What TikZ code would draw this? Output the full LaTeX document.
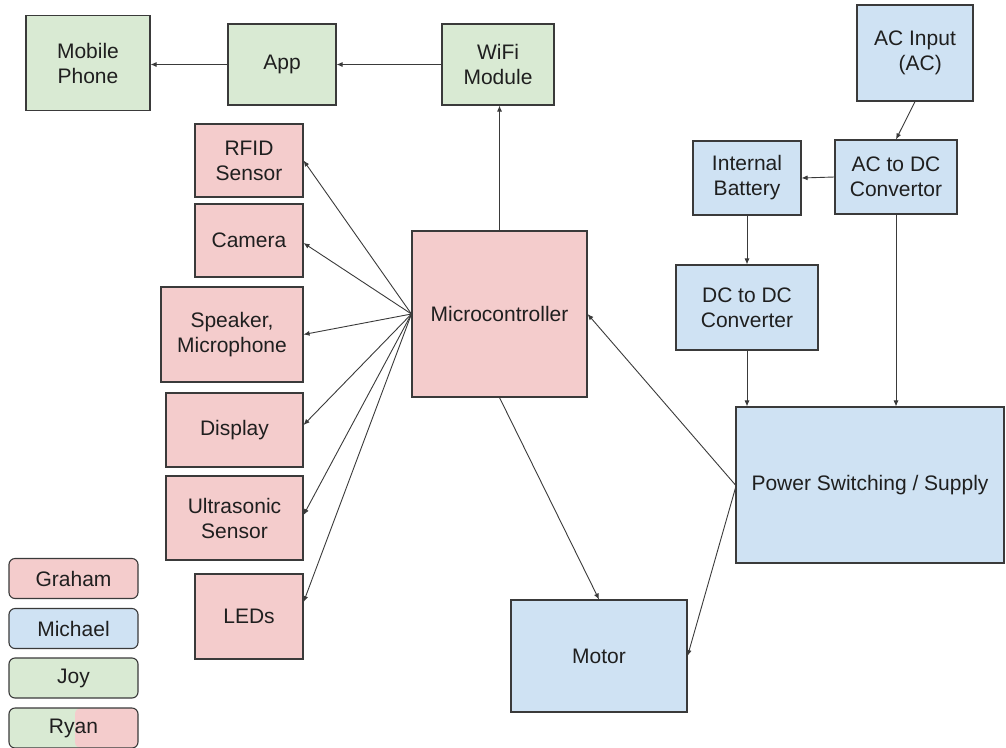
\documentclass[tikz,border=0pt]{standalone}
\usepackage{fontspec}
\setmainfont{Liberation Sans}
\usetikzlibrary{arrows.meta,calc}
\definecolor{gpink}{HTML}{F4CCCC}
\definecolor{gblue}{HTML}{CFE2F3}
\definecolor{ggreen}{HTML}{D9EAD3}
\definecolor{edgegray}{HTML}{3A3A3A}
\definecolor{ink}{HTML}{1F1F1F}
\begin{document}
\begin{tikzpicture}[x=1pt,y=-1pt,
  box/.style={draw=edgegray, line width=1.1pt, align=center, text=ink,
    font=\fontsize{21}{25}\selectfont, inner sep=0pt},
  pinkbox/.style={box, fill=gpink},
  bluebox/.style={box, fill=gblue},
  greenbox/.style={box, fill=ggreen},
  legendbox/.style={box, rounded corners=6pt, minimum width=129pt, minimum height=40pt},
  link/.style={draw=edgegray, line width=0.9pt, -{Latex[length=6pt,width=5pt]}}
]
\useasboundingbox (0,0) rectangle (1006,747);

% green blocks (app side)
\node[greenbox, minimum width=124pt, minimum height=95pt] (phone) at (88,63) {Mobile\\Phone};
\node[greenbox, minimum width=108pt, minimum height=81pt] (app) at (282,64.5) {App};
\node[greenbox, minimum width=112pt, minimum height=81pt] (wifi) at (498,64.5) {WiFi\\Module};

% blue blocks (power)
\node[bluebox, minimum width=116pt, minimum height=96pt] (acin) at (915,53) {AC Input\\\hphantom{x}(AC)};
\node[bluebox, minimum width=122pt, minimum height=74pt] (acdc) at (896,177) {AC to DC\\Convertor};
\node[bluebox, minimum width=108pt, minimum height=74pt] (batt) at (747,178) {Internal\\Battery};
\node[bluebox, minimum width=142pt, minimum height=85pt] (dcdc) at (747,307.5) {DC to DC\\Converter};
\node[bluebox, minimum width=268pt, minimum height=156pt] (pss) at (870,485) {Power Switching / Supply};
\node[bluebox, minimum width=176pt, minimum height=112pt] (motor) at (599,656) {Motor};

% pink blocks (controller and peripherals)
\node[pinkbox, minimum width=175pt, minimum height=166pt] (micro) at (499.5,314) {Microcontroller};
\node[pinkbox, minimum width=108pt, minimum height=73pt] (rfid) at (249,160.5) {RFID\\Sensor};
\node[pinkbox, minimum width=108pt, minimum height=73pt] (camera) at (249,240.5) {Camera};
\node[pinkbox, minimum width=142pt, minimum height=95pt] (speaker) at (232,334.5) {Speaker,\\Microphone};
\node[pinkbox, minimum width=137pt, minimum height=74pt] (display) at (234.5,430) {Display};
\node[pinkbox, minimum width=137pt, minimum height=84pt] (ultra) at (234.5,518) {Ultrasonic\\Sensor};
\node[pinkbox, minimum width=108pt, minimum height=85pt] (leds) at (249,616.5) {LEDs};

% legend
\node[legendbox, fill=gpink] (lgraham) at (73.5,578.5) {Graham};
\node[legendbox, fill=gblue] (lmichael) at (73.5,628.5) {Michael};
\node[legendbox, fill=ggreen] (ljoy) at (73.5,678) {Joy};
\node[legendbox, fill=ggreen, path picture={
    \fill[gpink] ([xshift=1.5pt]path picture bounding box.north) rectangle (path picture bounding box.south east);}]
  (lryan) at (73.5,728) {Ryan};

% data path to the phone
\draw[link] (app.west) -- (app.west -| phone.east);
\draw[link] (wifi.west) -- (app.east);
\draw[link] (micro.north) -- (micro.north |- wifi.south);

% peripherals fanned out from the controller
\draw[link] (micro.west) -- (rfid.east);
\draw[link] (micro.west) -- ([yshift=-2.5pt]camera.east);
\draw[link] (micro.west) -- (speaker.east);
\draw[link] (micro.west) -- ([yshift=5pt]display.east);
\draw[link] (micro.west) -- ([yshift=3pt]ultra.east);
\draw[link] (micro.west) -- ([yshift=14.5pt]leds.east);

% power chain
\draw[link] (acin.south) -- (acdc.north);
\draw[link] (acdc.west) -- (batt.east);
\draw[link] (batt.south) -- (dcdc.north);
\draw[link] (dcdc.south) -- (dcdc.south |- pss.north);
\draw[link] (acdc.south) -- (acdc.south |- pss.north);
\draw[link] (pss.west) -- (micro.east);
\draw[link] ([yshift=-3pt]pss.west) -- (motor.east);
\draw[link] (micro.south) -- (motor.north);
\end{tikzpicture}
\end{document}
